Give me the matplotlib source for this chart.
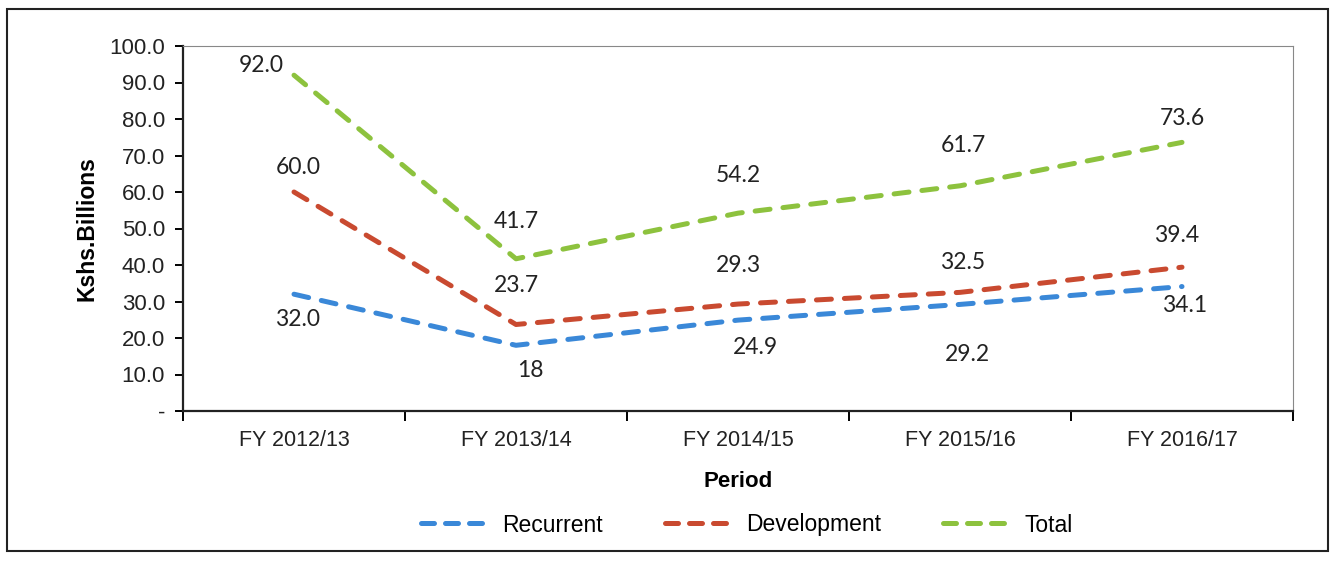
import matplotlib
matplotlib.use("Agg")
import matplotlib.pyplot as plt
from matplotlib.patches import Rectangle
from matplotlib.lines import Line2D

# ---- data ----
periods = ["FY 2012/13", "FY 2013/14", "FY 2014/15", "FY 2015/16", "FY 2016/17"]
recurrent = [32.0, 18.0, 24.9, 29.2, 34.1]
development = [60.0, 23.7, 29.3, 32.5, 39.4]
total = [92.0, 41.7, 54.2, 61.7, 73.6]
recurrent_labels = ["32.0", "18", "24.9", "29.2", "34.1"]
development_labels = ["60.0", "23.7", "29.3", "32.5", "39.4"]
total_labels = ["92.0", "41.7", "54.2", "61.7", "73.6"]
yticks = [0, 10, 20, 30, 40, 50, 60, 70, 80, 90, 100]
ytick_labels = ["-", "10.0", "20.0", "30.0", "40.0", "50.0", "60.0", "70.0", "80.0", "90.0", "100.0"]

# ---- styling ----
plt.rcParams['font.family'] = ['Liberation Sans', 'DejaVu Sans']
BLUE = "#3a88d8"
RED = "#c94a30"
GREEN = "#8dc23e"
LBL_FONT = ['Lato', 'DejaVu Sans']

# label offsets in pixels (dx, dy)
off_total = [(-33, 10), (0, 37), (0, 38), (3, 40), (0, 24)]
off_dev = [(4, 24), (0, 39), (0, 39), (3, 30), (-5, 32)]
off_rec = [(4, -25), (14, -25), (17, -27), (7, -50), (3, -19)]

fig = plt.figure(figsize=(13.36, 5.61), dpi=100)
fig.patch.set_facecolor("white")

# outer frame
fig.patches.append(Rectangle((7/1336, 1 - 551/561), (1328-7)/1336, (551-9)/561,
                             transform=fig.transFigure, fill=False,
                             edgecolor="#222222", linewidth=1.5))

ax = fig.add_axes([183/1336, 1 - 411/561, (1293-183)/1336, (411-46)/561])
x = list(range(len(periods)))

LW = 3.6
dash = (3.0, 2.6)
hdash = (2.6, 2.2)
series = [
    (recurrent, recurrent_labels, off_rec, BLUE, "Recurrent"),
    (development, development_labels, off_dev, RED, "Development"),
    (total, total_labels, off_total, GREEN, "Total"),
]
handles = []
for vals, labs, offs, col, name in series:
    ax.plot(x, vals, color=col, linewidth=LW, linestyle=(0, dash),
            dash_capstyle="round", label=name)
    handles.append(Line2D([], [], color=col, linewidth=LW, linestyle=(0, hdash),
                          dash_capstyle="round"))
    for xi, v, t, (dx, dy) in zip(x, vals, labs, offs):
        ax.annotate(t, (xi, v), xytext=(dx, dy), textcoords="offset pixels",
                    ha="center", va="center", fontsize=16.5, color="#222222",
                    family=LBL_FONT)

ax.set_xlim(-0.5, len(periods) - 0.5)
ax.set_ylim(0, 100)
ax.set_yticks(yticks)
ax.set_yticklabels(ytick_labels, fontsize=16, color="#222222")
ax.set_xticks(x)
ax.set_xticklabels(periods, fontsize=15.5, color="#222222")
ax.tick_params(axis="x", which="major", length=0, pad=14)
ax.set_xticks([i - 0.5 for i in range(len(periods) + 1)], minor=True)
ax.tick_params(axis="x", which="minor", length=7, width=1.4, direction="out")
ax.tick_params(axis="y", length=6, width=1.4, direction="out", pad=7)

for s in ["left", "bottom"]:
    ax.spines[s].set_linewidth(1.6)
    ax.spines[s].set_color("#222222")
for s in ["top", "right"]:
    ax.spines[s].set_linewidth(0.8)
    ax.spines[s].set_color("#888888")

ax.set_ylabel("Kshs.Billions", fontsize=16.5, fontweight="bold", labelpad=8)
ax.set_xlabel("Period", fontsize=16, fontweight="bold", labelpad=14)

fig.legend(handles, [s[4] for s in series], loc="center",
           bbox_to_anchor=(747/1336, 1 - 525/561), ncol=3, frameon=False,
           fontsize=16.5, handlelength=2.9, columnspacing=2.7, handletextpad=0.65)

fig.savefig("out.png", dpi=100, facecolor="white")
